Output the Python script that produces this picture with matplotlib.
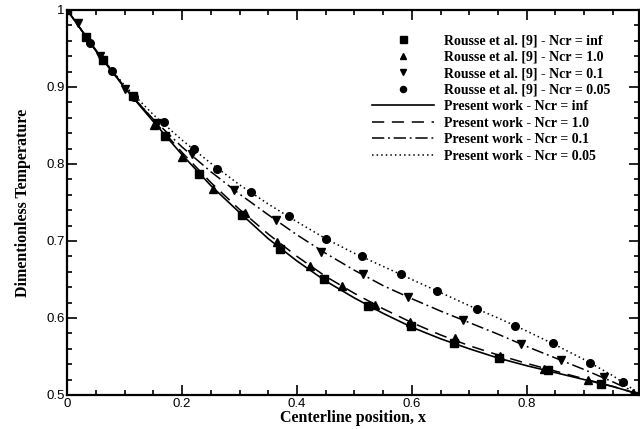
import numpy as np
import matplotlib
matplotlib.use("Agg")
import matplotlib.pyplot as plt
from matplotlib.ticker import MultipleLocator, FormatStrFormatter

# Rousse et al. [9] reference points
sq_x = [0.0, 0.033, 0.062, 0.114, 0.170, 0.230, 0.304, 0.370, 0.447, 0.524, 0.598, 0.673, 0.751, 0.837, 0.930]
sq_y = [1.0, 0.965, 0.935, 0.888, 0.837, 0.787, 0.734, 0.690, 0.650, 0.616, 0.589, 0.567, 0.548, 0.532, 0.514]

up_x = [0.151, 0.199, 0.253, 0.309, 0.365, 0.423, 0.478, 0.536, 0.597, 0.675, 0.753, 0.830, 0.907, 0.985]
up_y = [0.851, 0.809, 0.768, 0.736, 0.699, 0.668, 0.641, 0.617, 0.595, 0.574, 0.551, 0.534, 0.519, 0.503]

dn_x = [0.018, 0.057, 0.101, 0.157, 0.217, 0.290, 0.364, 0.441, 0.515, 0.594, 0.689, 0.790, 0.860, 0.935]
dn_y = [0.983, 0.940, 0.898, 0.853, 0.813, 0.766, 0.727, 0.686, 0.657, 0.627, 0.597, 0.566, 0.545, 0.524]

ci_x = [0.039, 0.078, 0.117, 0.168, 0.220, 0.261, 0.320, 0.386, 0.450, 0.514, 0.581, 0.643, 0.713, 0.780, 0.845, 0.910, 0.968]
ci_y = [0.957, 0.921, 0.887, 0.854, 0.819, 0.794, 0.763, 0.732, 0.703, 0.680, 0.657, 0.635, 0.612, 0.590, 0.567, 0.542, 0.517]

# Present work curves
xs = [0.0, 0.05, 0.1, 0.15, 0.2, 0.25, 0.3, 0.35, 0.4, 0.45, 0.5,
      0.55, 0.6, 0.65, 0.7, 0.75, 0.8, 0.85, 0.9, 0.95, 1.0]
t_inf = [1.0, 0.947, 0.899, 0.855, 0.812, 0.772, 0.737, 0.703, 0.674, 0.648, 0.626,
         0.606, 0.588, 0.573, 0.560, 0.548, 0.538, 0.529, 0.520, 0.511, 0.500]
t_1 = [1.0, 0.948, 0.900, 0.857, 0.815, 0.776, 0.741, 0.709, 0.680, 0.654, 0.632,
       0.612, 0.594, 0.578, 0.564, 0.552, 0.541, 0.531, 0.521, 0.511, 0.500]
t_01 = [1.0, 0.947, 0.899, 0.858, 0.822, 0.790, 0.761, 0.734, 0.708, 0.684, 0.662,
        0.642, 0.625, 0.609, 0.594, 0.579, 0.563, 0.548, 0.533, 0.517, 0.500]
t_005 = [1.0, 0.947, 0.902, 0.864, 0.831, 0.801, 0.773, 0.748, 0.725, 0.703, 0.684,
         0.667, 0.650, 0.633, 0.616, 0.600, 0.583, 0.565, 0.546, 0.525, 0.500]

serif = {'family': 'Liberation Serif', 'weight': 'bold', 'size': 11.5}

fig = plt.figure(figsize=(6.4, 4.29), dpi=100)
ax = fig.add_axes([0.105, 0.0793, 0.893, 0.8974])

ax.plot(sq_x, sq_y, 's', color='black', ms=6.3, ls='none', label='Rousse et al. [9] - Ncr = inf')
ax.plot(up_x, up_y, '^', color='black', ms=6, ls='none', label='Rousse et al. [9] - Ncr = 1.0')
ax.plot(dn_x, dn_y, 'v', color='black', ms=6, ls='none', label='Rousse et al. [9] - Ncr = 0.1')
ax.plot(ci_x, ci_y, 'o', color='black', ms=5.5, ls='none', label='Rousse et al. [9] - Ncr = 0.05')

ax.plot(xs, t_inf, '-', color='black', lw=1.2, label='Present work - Ncr = inf')
ax.plot(xs, t_1, color='black', lw=1.1, dashes=(8, 5), label='Present work - Ncr = 1.0')
ax.plot(xs, t_01, color='black', lw=1.1, dashes=(8, 2.5, 1.2, 2.5), label='Present work - Ncr = 0.1')
ax.plot(xs, t_005, color='black', lw=1.1, dashes=(1, 2), label='Present work - Ncr = 0.05')

ax.set_xlim(0, 0.995)
ax.set_ylim(0.5, 1.0)
ax.xaxis.set_major_locator(MultipleLocator(0.2))
ax.xaxis.set_minor_locator(MultipleLocator(0.05))
ax.yaxis.set_major_locator(MultipleLocator(0.1))
ax.yaxis.set_minor_locator(MultipleLocator(0.02))
ax.xaxis.set_major_formatter(FormatStrFormatter('%g'))
ax.yaxis.set_major_formatter(FormatStrFormatter('%g'))
ax.tick_params(which='both', direction='in', top=True, right=True, width=1.2,
               labelsize=9.5, pad=2)
ax.tick_params(which='major', length=7)
ax.tick_params(which='minor', length=3.5)
for lab in ax.get_xticklabels() + ax.get_yticklabels():
    lab.set_family('Liberation Sans')
for s in ax.spines.values():
    s.set_linewidth(1.6)

ax.set_xlabel('Centerline position, x', fontdict=serif, labelpad=0)
ax.set_ylabel('Dimentionless Temperature', fontdict=serif, labelpad=11)

ax.legend(loc='upper left', bbox_to_anchor=(0.581, 0.92), bbox_transform=fig.transFigure,
          frameon=False, borderpad=0, borderaxespad=0, handlelength=4.5,
          handletextpad=0.7, labelspacing=0.25, markerscale=0.8,
          prop={'family': 'Liberation Serif', 'weight': 'bold', 'size': 10})

fig.savefig('out.png', dpi=100)
